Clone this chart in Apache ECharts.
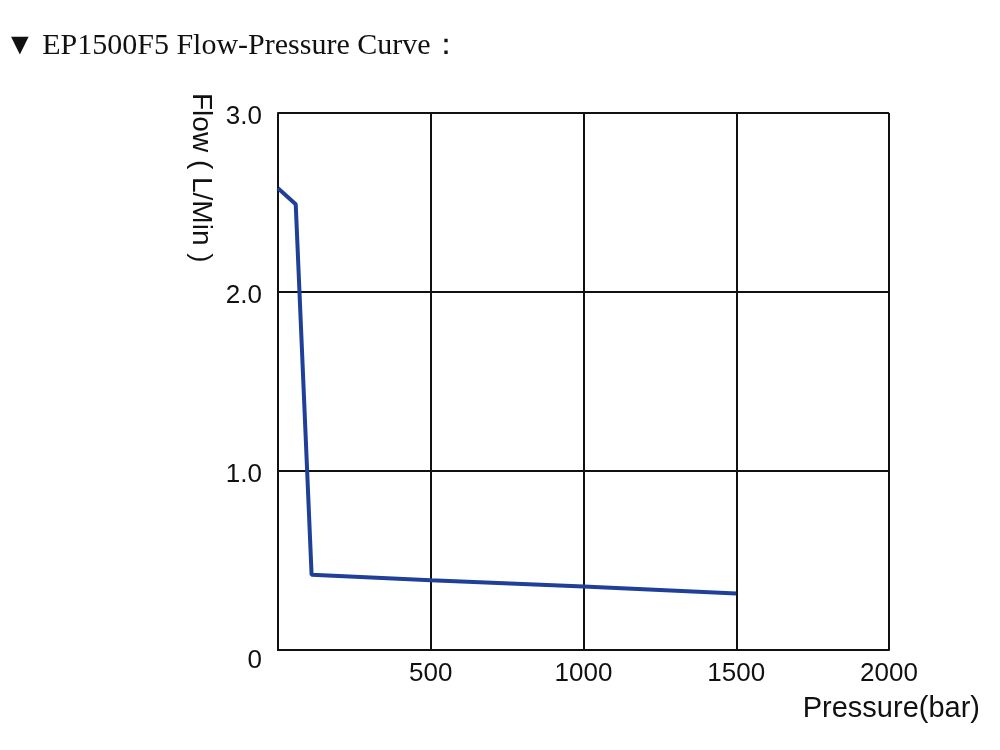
<!DOCTYPE html>
<html>
<head>
<meta charset="utf-8">
<script src="https://cdn.jsdelivr.net/npm/echarts@6/dist/echarts.min.js"></script>
<style>
  html, body { margin: 0; padding: 0; background: #fff; }
  #chart { width: 1000px; height: 750px; }
</style>
</head>
<body>
<div id="chart"></div>
<script>
// pressure (bar) / flow (L/min)
const pressure = [0, 58, 110, 500, 1000, 1500];
const flow = [2.58, 2.49, 0.42, 0.39, 0.355, 0.315];
const xTicks = [0, 500, 1000, 1500, 2000];
const yTicks = [0, 1, 2, 3];

const chart = echarts.init(document.getElementById('chart'));

const sans = '"Liberation Sans", Arial, sans-serif';
const gridLine = { show: true, lineStyle: { color: '#111', width: 2, type: 'solid' } };

chart.setOption({
  animation: false,
  backgroundColor: '#fff',
  grid: { left: 278, right: 111, top: 113, bottom: 100, containLabel: false },
  graphic: [
    {
      type: 'text', left: 5, top: 31,
      style: {
        text: '▼ EP1500F5 Flow-Pressure Curve：',
        font: '30px "Liberation Serif", "Times New Roman", serif',
        fill: '#111'
      }
    },
    {
      type: 'text', x: 201, y: 93, rotation: -Math.PI / 2,
      style: {
        text: 'Flow ( L/Min )',
        font: '28px ' + sans,
        fill: '#111',
        textAlign: 'left',
        textVerticalAlign: 'middle'
      }
    },
    {
      type: 'text', x: 980, y: 709,
      style: {
        text: 'Pressure(bar)',
        font: '29px ' + sans,
        fill: '#111',
        textAlign: 'right',
        textVerticalAlign: 'middle'
      }
    }
  ],
  xAxis: {
    type: 'value',
    min: xTicks[0],
    max: xTicks[xTicks.length - 1],
    interval: 500,
    axisLine: { show: true, lineStyle: { color: '#111', width: 2 } },
    axisTick: { show: false },
    splitLine: gridLine,
    axisLabel: {
      color: '#111', fontSize: 26, fontFamily: sans, margin: 11,
      formatter: v => (v === 0 ? '' : String(v))
    }
  },
  yAxis: {
    type: 'value',
    min: yTicks[0],
    max: yTicks[yTicks.length - 1],
    interval: 1,
    axisLine: { show: true, lineStyle: { color: '#111', width: 2 } },
    axisTick: { show: false },
    splitLine: gridLine,
    axisLabel: {
      color: '#111', fontSize: 26, fontFamily: sans, margin: 16,
      formatter: v => (v === 0 ? '{z|0}' : '{n|' + v.toFixed(1) + '}'),
      rich: {
        z: { fontSize: 26, fontFamily: sans, color: '#111', padding: [22, 0, 0, 0] },
        n: { fontSize: 26, fontFamily: sans, color: '#111', padding: [8, 0, 0, 0] }
      }
    }
  },
  series: [{
    type: 'line',
    data: pressure.map((p, i) => [p, flow[i]]),
    symbol: 'none',
    lineStyle: { color: '#1f3f98', width: 4 },
    z: 5
  }]
});
</script>
</body>
</html>
